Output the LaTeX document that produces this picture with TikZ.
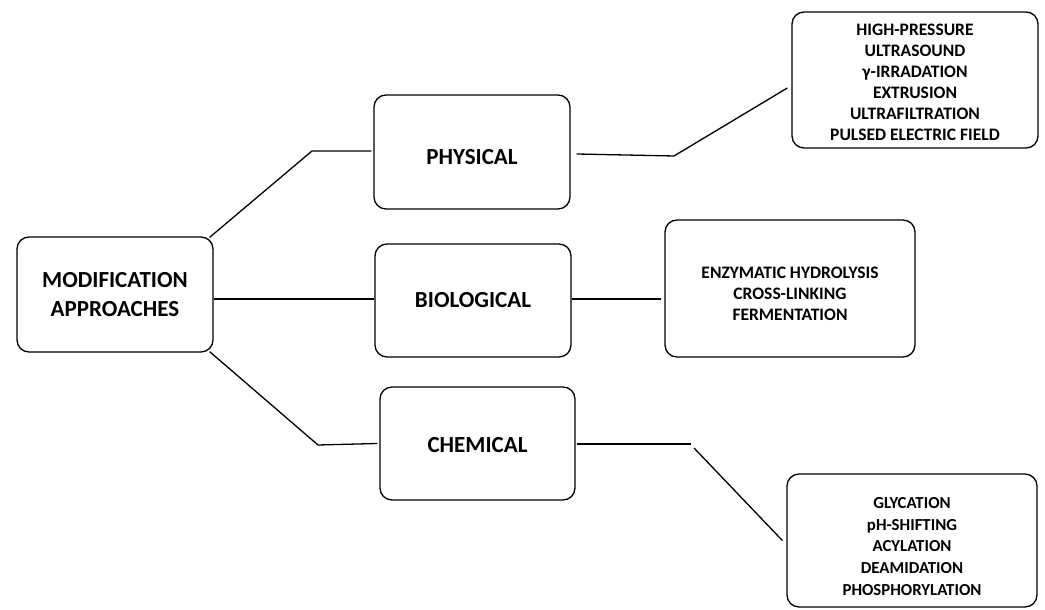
\documentclass[tikz,border=0pt]{standalone}
\usepackage{fontspec}
\setmainfont{Carlito}
\begin{document}
\begin{tikzpicture}[x=1pt,y=1pt,
  box/.style={draw=black, line width=1.3pt, rounded corners=12pt, inner sep=0pt},
  maintxt/.style={inner sep=0pt, align=center, font=\bfseries\fontsize{23}{29}\selectfont},
  listtxt/.style={inner sep=0pt, align=center, font=\bfseries\fontsize{17.5}{21}\selectfont},
  link/.style={line width=1.3pt, black}]
\useasboundingbox (0,0) rectangle (1045,610);
\node[box, minimum width=196pt, minimum height=115pt] (mod) at (115,315.5) {};
\node[box, minimum width=196pt, minimum height=114pt] (phys) at (472,458) {};
\node[box, minimum width=196pt, minimum height=113pt] (bio) at (473,309.5) {};
\node[box, minimum width=195pt, minimum height=113pt] (chem) at (477.5,166.5) {};
\node[box, minimum width=246pt, minimum height=136pt] (physlist) at (915,530) {};
\node[box, minimum width=250pt, minimum height=137pt] (biolist) at (790,321.5) {};
\node[box, minimum width=250pt, minimum height=133pt] (chemlist) at (912,69.5) {};
\node[maintxt] (modT) at (mod.center) {MODIFICATION\\APPROACHES};
\node[maintxt] (physT) at ([yshift=-5pt]phys.center) {PHYSICAL};
\node[maintxt] (bioT) at ([yshift=0pt]bio.center) {BIOLOGICAL};
\node[maintxt] (chemT) at ([yshift=-1.5pt]chem.center) {CHEMICAL};
\node[listtxt] (physlistT) at ([yshift=-2.5pt]physlist.center) {HIGH-PRESSURE\\ULTRASOUND\\γ-IRRADATION\\EXTRUSION\\ULTRAFILTRATION\\PULSED ELECTRIC FIELD};
\node[listtxt, font=\bfseries\fontsize{17.5}{20.7}\selectfont] (biolistT) at ([yshift=-5.5pt]biolist.center) {ENZYMATIC HYDROLYSIS\\CROSS-LINKING\\FERMENTATION};
\node[listtxt, font=\bfseries\fontsize{16.8}{21.7}\selectfont] (chemlistT) at ([yshift=-6pt]chemlist.center) {GLYCATION\\pH-SHIFTING\\ACYLATION\\DEAMIDATION\\PHOSPHORYLATION};
\coordinate (m1) at (312,459);
\coordinate (m2) at (318,165);
\coordinate (p1) at (674,454);
\coordinate (c1) at (691,166);
\coordinate (c2) at (694,162);
\coordinate (bl) at (0,311);
\draw[link] ([xshift=-4pt,yshift=-1pt]mod.north east) -- (m1) -- ([xshift=-2pt,yshift=1pt]phys.west);
\draw[link] (mod.east |- bl) -- (bio.west |- bl);
\draw[link] ([xshift=-4pt,yshift=1pt]mod.south east) -- (m2) -- ([xshift=-2pt]chem.west);
\draw[link] ([xshift=6pt,yshift=-2pt]phys.east) -- (p1) -- ([xshift=-4pt,yshift=-8pt]physlist.west);
\draw[link] (bio.east |- bl) -- ([xshift=-3pt]biolist.west |- bl);
\draw[link] ([xshift=1pt,yshift=-0.5pt]chem.east) -- (c1);
\draw[link] (c2) -- ([xshift=-4pt]chemlist.west);
\end{tikzpicture}
\end{document}
